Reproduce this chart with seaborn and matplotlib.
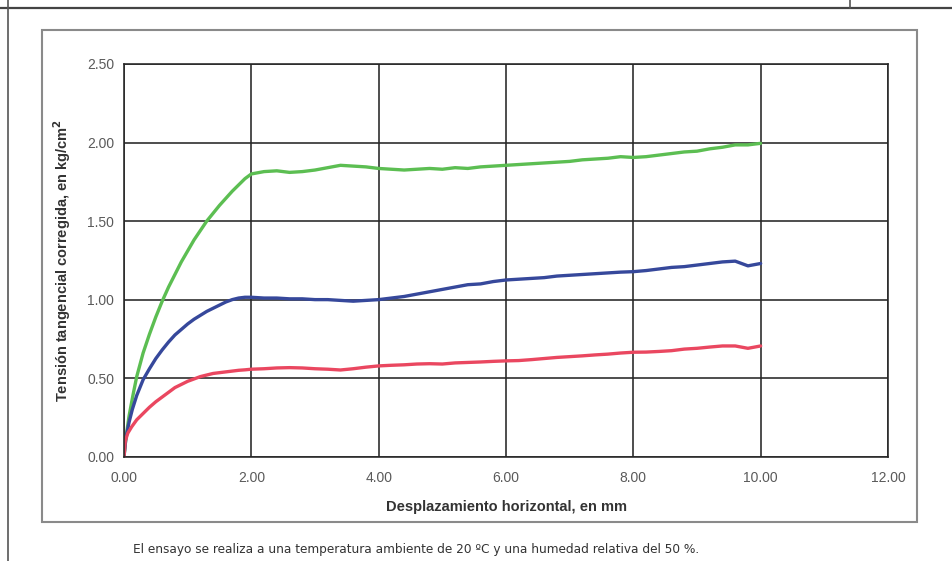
import matplotlib
matplotlib.use("Agg")
import matplotlib.pyplot as plt
from matplotlib.patches import Rectangle
from matplotlib.lines import Line2D
from matplotlib.ticker import FormatStrFormatter
import pandas as pd
import seaborn as sns

# Displacement (mm) shared by the three curves beyond 2 mm
disp_tail = [2.0, 2.2, 2.4, 2.6, 2.8, 3.0, 3.2, 3.4, 3.6, 3.8,
             4.0, 4.2, 4.4, 4.6, 4.8, 5.0, 5.2, 5.4, 5.6, 5.8,
             6.0, 6.2, 6.4, 6.6, 6.8, 7.0, 7.2, 7.4, 7.6, 7.8,
             8.0, 8.2, 8.4, 8.6, 8.8, 9.0, 9.2, 9.4, 9.6, 9.8, 10.0]

# Highest normal load (green)
green_x_start = [0, 0.03, 0.08, 0.14, 0.2, 0.3, 0.4, 0.5, 0.6, 0.7,
                 0.8, 0.9, 1.0, 1.1, 1.2, 1.3, 1.4, 1.5, 1.6, 1.7, 1.8, 1.9]
green_y_start = [0, 0.12, 0.26, 0.39, 0.51, 0.66, 0.78, 0.89, 0.99, 1.08,
                 1.16, 1.24, 1.31, 1.38, 1.44, 1.50, 1.55, 1.60, 1.645, 1.69, 1.73, 1.77]
green_y_tail = [1.80, 1.815, 1.82, 1.81, 1.815, 1.825, 1.84, 1.855, 1.85, 1.845,
                1.835, 1.83, 1.825, 1.83, 1.835, 1.83, 1.84, 1.835, 1.845, 1.85,
                1.855, 1.86, 1.865, 1.87, 1.875, 1.88, 1.89, 1.895, 1.90, 1.91,
                1.905, 1.91, 1.92, 1.93, 1.94, 1.945, 1.96, 1.97, 1.985, 1.985, 1.995]

# Intermediate normal load (blue)
blue_x_start = [0, 0.03, 0.08, 0.13, 0.2, 0.3, 0.4, 0.5, 0.6, 0.7,
                0.8, 0.9, 1.0, 1.1, 1.2, 1.3, 1.4, 1.5, 1.6, 1.7, 1.8, 1.9]
blue_y_start = [0, 0.12, 0.22, 0.30, 0.39, 0.49, 0.56, 0.625, 0.68, 0.73,
                0.775, 0.81, 0.845, 0.875, 0.90, 0.925, 0.945, 0.965, 0.985, 1.0, 1.01, 1.015]
blue_y_tail = [1.015, 1.01, 1.01, 1.005, 1.005, 1.0, 1.0, 0.995, 0.99, 0.995,
               1.0, 1.01, 1.02, 1.035, 1.05, 1.065, 1.08, 1.095, 1.10, 1.115,
               1.125, 1.13, 1.135, 1.14, 1.15, 1.155, 1.16, 1.165, 1.17, 1.175,
               1.178, 1.185, 1.195, 1.205, 1.21, 1.22, 1.23, 1.24, 1.245, 1.215, 1.23]

# Lowest normal load (red)
red_x_start = [0, 0.02, 0.06, 0.12, 0.2, 0.3, 0.4, 0.5, 0.6, 0.7,
               0.8, 0.9, 1.0, 1.1, 1.2, 1.3, 1.4, 1.5, 1.6, 1.7, 1.8, 1.9]
red_y_start = [0, 0.10, 0.15, 0.19, 0.235, 0.275, 0.315, 0.35, 0.38, 0.41,
               0.44, 0.46, 0.48, 0.495, 0.51, 0.52, 0.53, 0.535, 0.54, 0.545, 0.55, 0.553]
red_y_tail = [0.557, 0.56, 0.565, 0.567, 0.565, 0.56, 0.557, 0.552, 0.56, 0.57,
              0.578, 0.582, 0.585, 0.59, 0.592, 0.59, 0.597, 0.60, 0.603, 0.607,
              0.61, 0.612, 0.618, 0.625, 0.632, 0.637, 0.642, 0.648, 0.653, 0.66,
              0.665, 0.666, 0.67, 0.675, 0.685, 0.69, 0.698, 0.705, 0.705, 0.69, 0.705]

x_ticks = [0, 2, 4, 6, 8, 10, 12]
y_ticks = [0, 0.5, 1.0, 1.5, 2.0, 2.5]

series_colors = {"verde": "#5cbe52", "azul": "#36489b", "rojo": "#ea4760"}

frames = []
for name, xs, ys, yt in [("verde", green_x_start, green_y_start, green_y_tail),
                         ("azul", blue_x_start, blue_y_start, blue_y_tail),
                         ("rojo", red_x_start, red_y_start, red_y_tail)]:
    frames.append(pd.DataFrame({"desp": xs + disp_tail,
                                "tension": ys + yt,
                                "serie": name}))
df = pd.concat(frames, ignore_index=True)

sns.set_theme(style="white")
plt.rcParams["font.family"] = ["Liberation Sans", "DejaVu Sans"]

fig = plt.figure(figsize=(9.52, 5.61), dpi=100)
fig.patch.set_facecolor("white")

# Page borders of the report sheet
fig.add_artist(Line2D([0, 1], [1 - 8 / 561, 1 - 8 / 561], transform=fig.transFigure,
                      color="#444444", linewidth=1.6))
fig.add_artist(Line2D([8 / 952, 8 / 952], [0, 1], transform=fig.transFigure,
                      color="#555555", linewidth=1.2))
fig.add_artist(Line2D([850 / 952, 850 / 952], [1 - 8 / 561, 1], transform=fig.transFigure,
                      color="#555555", linewidth=1.2))

# Chart frame
fig.add_artist(Rectangle((42 / 952, 1 - 522 / 561), (917 - 42) / 952, (522 - 30) / 561,
                         transform=fig.transFigure, fill=False,
                         edgecolor="#8a8a8a", linewidth=1.5))

ax = fig.add_axes([124 / 952, 1 - 456.7 / 561, (888 - 124) / 952, (456.7 - 64) / 561])

sns.lineplot(data=df, x="desp", y="tension", hue="serie", palette=series_colors,
             estimator=None, sort=False, legend=False, linewidth=2.4, ax=ax)

ax.set_xlim(0, 12)
ax.set_ylim(0, 2.5)
ax.set_xticks(x_ticks)
ax.set_yticks(y_ticks)
ax.xaxis.set_major_formatter(FormatStrFormatter("%.2f"))
ax.yaxis.set_major_formatter(FormatStrFormatter("%.2f"))
ax.grid(True, color="#262626", linewidth=1.15)
for sp in ax.spines.values():
    sp.set_color("#262626")
    sp.set_linewidth(1.15)
ax.tick_params(axis="both", direction="out", length=4, width=1.0, color="#333333",
               labelcolor="#5a5a5a", labelsize=10, pad=3)
ax.tick_params(axis="x", pad=6)

ax.set_xlabel("Desplazamiento horizontal, en mm", fontsize=10.5, fontweight="bold",
              color="#333333", labelpad=11)
ax.set_ylabel("Tensión tangencial corregida, en kg/cm$^\\mathbf{2}$", fontsize=10.5,
              fontweight="bold", color="#333333", labelpad=10)

fig.text(133 / 952, 1 - 549 / 561,
         "El ensayo se realiza a una temperatura ambiente de 20 ºC y una humedad relativa del 50 %.",
         fontsize=8.7, color="#333333", va="center", ha="left",
         family=["DejaVu Sans"])

fig.savefig("out.png", dpi=100, facecolor="white")
